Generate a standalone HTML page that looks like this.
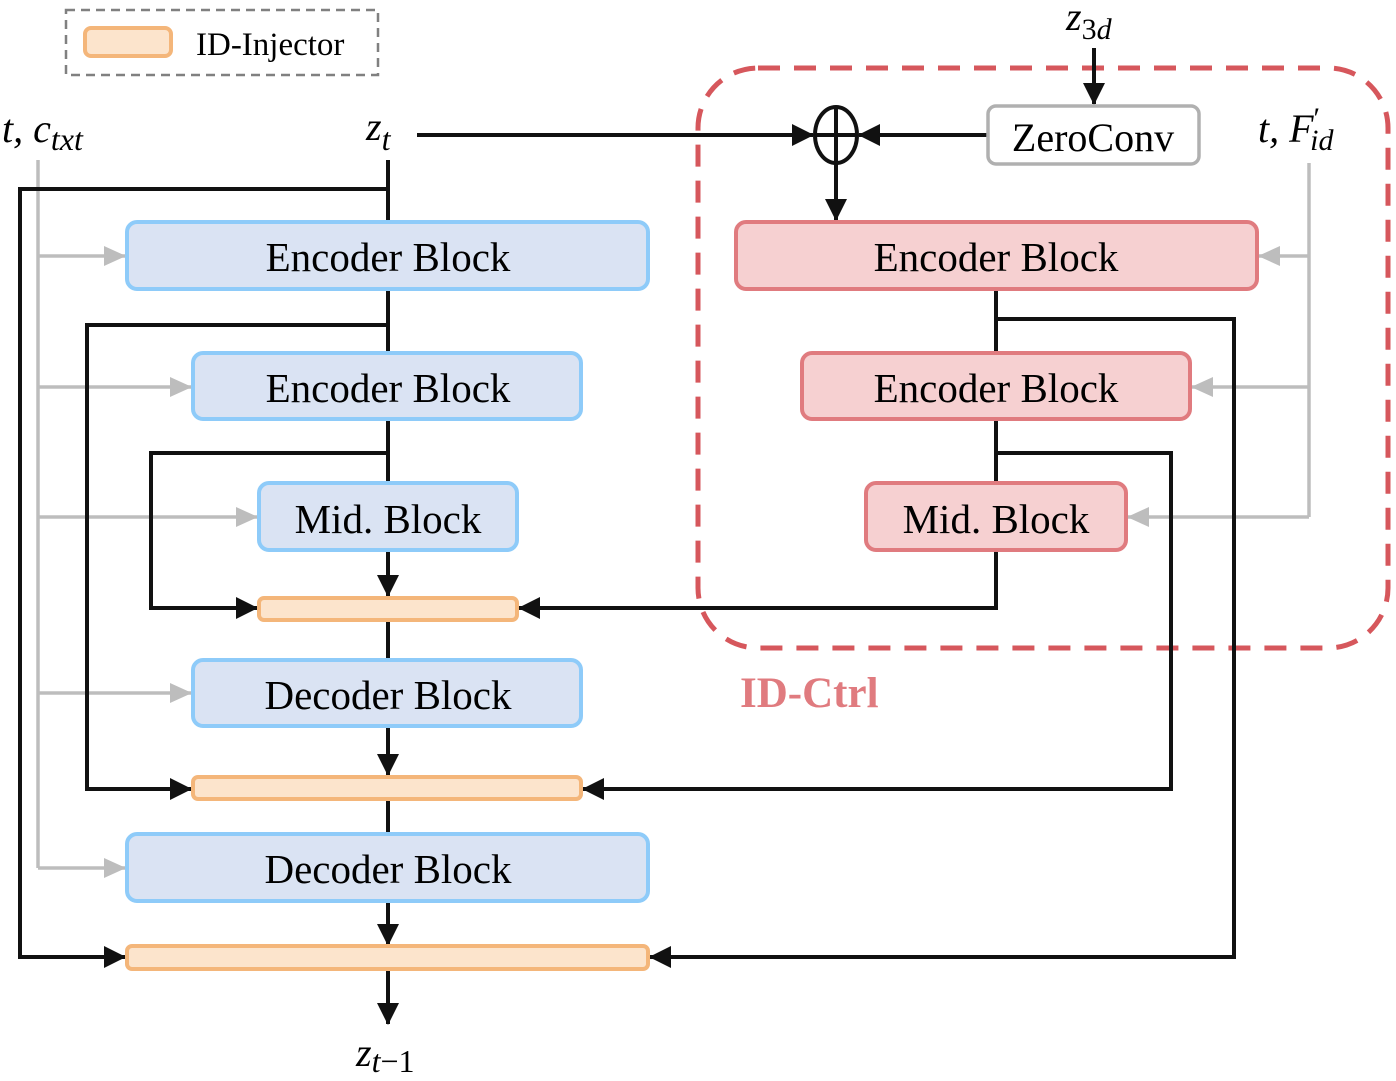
<!DOCTYPE html>
<html><head><meta charset="utf-8"><style>
html,body{margin:0;padding:0;background:#fff;}
svg{display:block;}
svg text{font-family:"Liberation Serif","DejaVu Serif",serif;fill:#000;}
</style></head><body>
<svg width="1396" height="1081" viewBox="0 0 1396 1081" xmlns="http://www.w3.org/2000/svg" font-family="Liberation Serif, serif">
<defs>
<marker id="ak" markerWidth="22" markerHeight="22" refX="21" refY="11" orient="auto" markerUnits="userSpaceOnUse" viewBox="0 0 22 22"><path d="M0,0 L22,11 L0,22 z" fill="#111"/></marker>
<marker id="ag" markerWidth="22" markerHeight="20" refX="21" refY="10" orient="auto" markerUnits="userSpaceOnUse" viewBox="0 0 22 20"><path d="M0,0 L22,10 L0,20 z" fill="#bdbdbd"/></marker>
</defs>
<style>
.k{stroke:#111;stroke-width:4;fill:none;}
.g{stroke:#bdbdbd;stroke-width:3.5;fill:none;}
</style>
<!-- legend -->
<rect x="66" y="10" width="312" height="65" fill="none" stroke="#808080" stroke-width="2.5" stroke-dasharray="9 6"/>
<rect x="85" y="28" width="86" height="28" rx="6" fill="#fce4cc" stroke="#f4b67a" stroke-width="4"/>
<text x="196" y="55" font-size="33" font-family="Liberation Serif, serif">ID-Injector</text>
<!-- ID-Ctrl dashed -->
<rect x="698" y="68" width="690" height="580" rx="60" fill="none" stroke="#d6575c" stroke-width="5" stroke-dasharray="22 14"/>
<text x="740" y="707" font-size="43" font-weight="bold" font-family="Liberation Serif, serif" style="fill:#e07b7f">ID-Ctrl</text>
<!-- gray left -->
<path class="g" d="M38 160 V868"/>
<path class="g" d="M38 256 H125" marker-end="url(#ag)"/>
<path class="g" d="M38 387 H191" marker-end="url(#ag)"/>
<path class="g" d="M38 517 H257" marker-end="url(#ag)"/>
<path class="g" d="M38 693 H191" marker-end="url(#ag)"/>
<path class="g" d="M38 868 H125" marker-end="url(#ag)"/>
<!-- gray right -->
<path class="g" d="M1309 163 V517"/>
<path class="g" d="M1309 256 H1259" marker-end="url(#ag)"/>
<path class="g" d="M1309 387 H1192" marker-end="url(#ag)"/>
<path class="g" d="M1309 517 H1128" marker-end="url(#ag)"/>
<!-- black left -->
<path class="k" d="M388 160 V222"/>
<path class="k" d="M388 189 H20 V957 H125" marker-end="url(#ak)"/>
<path class="k" d="M388 289 V353"/>
<path class="k" d="M388 325 H87 V789 H191" marker-end="url(#ak)"/>
<path class="k" d="M388 419 V483"/>
<path class="k" d="M388 453 H151 V608 H257" marker-end="url(#ak)"/>
<path class="k" d="M388 550 V596" marker-end="url(#ak)"/>
<path class="k" d="M388 620 V660"/>
<path class="k" d="M388 726 V775" marker-end="url(#ak)"/>
<path class="k" d="M388 799 V834"/>
<path class="k" d="M388 901 V945" marker-end="url(#ak)"/>
<path class="k" d="M388 969 V1024" marker-end="url(#ak)"/>
<!-- top -->
<path class="k" d="M417 135 H813" marker-end="url(#ak)"/>
<path class="k" d="M988 135 H859" marker-end="url(#ak)"/>
<path class="k" d="M1094 48 V104" marker-end="url(#ak)"/>
<path class="k" d="M836 163 V220" marker-end="url(#ak)"/>
<!-- black right -->
<path class="k" d="M996 289 V353"/>
<path class="k" d="M996 319 H1234 V957 H650" marker-end="url(#ak)"/>
<path class="k" d="M996 419 V483"/>
<path class="k" d="M996 453 H1171 V789 H583" marker-end="url(#ak)"/>
<path class="k" d="M996 550 V608 H519" marker-end="url(#ak)"/>
<!-- circle plus -->
<ellipse cx="836" cy="135" rx="21" ry="28" fill="#fff" stroke="#111" stroke-width="4"/>
<path class="k" d="M815 135 H857 M836 107 V163"/>
<!-- zeroconv -->
<rect x="988" y="106" width="211" height="58" rx="8" fill="#fff" stroke="#b0b0b0" stroke-width="3.5"/>
<text x="1093" y="151" font-size="40" text-anchor="middle" font-family="Liberation Serif, serif">ZeroConv</text>
<!-- blue blocks -->
<g fill="#dae3f3" stroke="#8ecbf9" stroke-width="4">
<rect x="127" y="222" width="521" height="67" rx="10"/>
<rect x="193" y="353" width="388" height="66" rx="10"/>
<rect x="259" y="483" width="258" height="67" rx="10"/>
<rect x="193" y="660" width="388" height="66" rx="10"/>
<rect x="127" y="834" width="521" height="67" rx="10"/>
</g>
<g fill="#fce4cc" stroke="#f4b67a" stroke-width="4">
<rect x="259" y="598" width="258" height="22" rx="5"/>
<rect x="193" y="777" width="388" height="22" rx="5"/>
<rect x="127" y="946" width="521" height="23" rx="5"/>
</g>
<g fill="#f6d0d1" stroke="#e07b7f" stroke-width="4">
<rect x="736" y="222" width="521" height="67" rx="10"/>
<rect x="802" y="353" width="388" height="66" rx="10"/>
<rect x="866" y="483" width="260" height="67" rx="10"/>
</g>
<g font-size="41" text-anchor="middle" font-family="Liberation Serif, serif">
<text x="388" y="271">Encoder Block</text>
<text x="388" y="402">Encoder Block</text>
<text x="388" y="533">Mid. Block</text>
<text x="388" y="709">Decoder Block</text>
<text x="388" y="883">Decoder Block</text>
<text x="996" y="271">Encoder Block</text>
<text x="996" y="402">Encoder Block</text>
<text x="996" y="533">Mid. Block</text>
</g>
<!-- math labels -->
<g font-family="DejaVu Serif, serif" font-style="italic">
<text x="2" y="142" font-size="40">t, c<tspan font-size="32" dy="8">txt</tspan></text>
<text x="366" y="140" font-size="40">z<tspan font-size="32" dy="10">t</tspan></text>
<text x="1066" y="30" font-size="40">z<tspan font-size="30" dy="9" font-style="normal">3</tspan><tspan font-size="30">d</tspan></text>
<text x="1258" y="142" font-size="40">t, F<tspan font-size="30" dy="-14" font-style="normal">′</tspan><tspan font-size="30" dy="22" dx="-10">id</tspan></text>
<text x="356" y="1066" font-size="40">z<tspan font-size="32" dy="6">t</tspan><tspan font-size="32" font-style="normal">−1</tspan></text>
</g>
</svg>
</body></html>
